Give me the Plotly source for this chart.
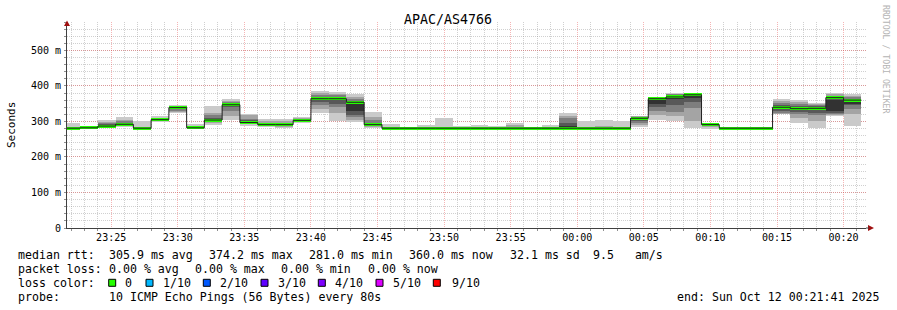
import pandas as pd
import plotly.graph_objects as go

# ---------------- data (ms) ----------------
start_time = "2025-10-11 23:21:20"   # first 80 s bucket start
step_s = 80
median = [281, 282, 287, 292, 281, 305, 339, 282, 304, 347,
          297, 291, 291, 303, 364, 364, 354, 291, 281, 281,
          281, 281, 281, 281, 281, 281, 281, 281, 281, 281,
          281, 281, 309, 364, 369, 375, 291, 281, 281, 281,
          340, 336, 337, 367, 360]

p1 = [279, 281, 283, 284, 279, 298, 324, 280, 291, 303,
      287, 284, 281, 297, 325, 301, 298, 281, 280, 280,
      280, 280, 280, 280, 280, 280, 280, 280, 280, 280,
      280, 280, 285, 305, 301, 282, 280, 280, 280, 280,
      320, 296, 282, 316, 286]
p2 = [280, 281, 284, 287, 280, 301, 327, 281, 296, 315,
      292, 286, 284, 299, 335, 325, 305, 283, 280, 280,
      280, 280, 280, 280, 280, 280, 280, 280, 281, 280,
      280, 280, 290, 318, 315, 300, 283, 280, 280, 280,
      322, 310, 300, 318, 320]
p3 = [280, 282, 285, 289, 280, 303, 330, 281, 300, 330,
      294, 288, 287, 301, 345, 340, 312, 286, 281, 281,
      281, 281, 281, 281, 281, 281, 281, 281, 282, 281,
      281, 281, 295, 330, 326, 338, 286, 281, 281, 281,
      325, 321, 318, 320, 336]
p4 = [280, 282, 286, 291, 281, 304, 335, 282, 302, 340,
      296, 290, 289, 302, 355, 350, 318, 288, 281, 281,
      281, 281, 281, 281, 281, 281, 281, 281, 283, 281,
      281, 281, 300, 340, 345, 355, 288, 281, 281, 281,
      330, 327, 325, 325, 345]
p5 = [281, 282, 287, 292, 281, 305, 338, 282, 303, 345,
      297, 291, 290, 303, 361, 362, 330, 290, 281, 281,
      281, 281, 281, 281, 281, 281, 281, 281, 284, 281,
      281, 281, 305, 350, 362, 365, 290, 281, 281, 281,
      337, 333, 333, 330, 350]
p6 = [281, 282, 288, 293, 281, 305, 341, 282, 305, 349,
      298, 292, 292, 304, 366, 366, 350, 293, 281, 281,
      281, 281, 281, 281, 281, 281, 281, 281, 285, 281,
      281, 281, 310, 360, 370, 374, 291, 281, 281, 281,
      342, 338, 339, 360, 357]
p7 = [281, 282, 292, 297, 282, 306, 342, 283, 309, 352,
      303, 294, 294, 305, 370, 370, 356, 297, 282, 281,
      282, 282, 281, 282, 281, 282, 281, 282, 295, 282,
      282, 282, 312, 362, 373, 377, 292, 281, 281, 281,
      346, 343, 343, 368, 362]
p8 = [282, 283, 295, 301, 283, 308, 343, 284, 317, 355,
      308, 297, 297, 307, 375, 374, 362, 303, 283, 282,
      283, 283, 282, 283, 282, 284, 281, 283, 310, 283,
      283, 283, 313, 364, 376, 378, 293, 281, 281, 281,
      352, 349, 346, 372, 368]
p9 = [284, 283, 298, 305, 285, 311, 344, 286, 323, 358,
      317, 302, 301, 309, 381, 378, 370, 312, 285, 282,
      284, 285, 283, 284, 284, 289, 282, 285, 314, 285,
      286, 285, 315, 365, 378, 379, 294, 282, 282, 282,
      358, 355, 350, 376, 373]
p10 = [295, 284, 304, 313, 301, 316, 346, 292, 343, 364,
       321, 308, 306, 312, 386, 383, 377, 326, 292, 283,
       290, 309, 286, 290, 287, 295, 283, 290, 323, 301,
       304, 301, 316, 366, 380, 380, 294, 282, 282, 282,
       362, 359, 353, 380, 378]

y_ticks = [0, 100, 200, 300, 400, 500]
y_tick_labels = ["0", "100 m", "200 m", "300 m", "400 m", "500 m"]

rtt_items = ["305.9 ms avg", "374.2 ms max", "281.0 ms min", "360.0 ms now",
             "32.1 ms sd", "9.5   am/s"]
loss_items = ["0.00 % avg", "0.00 % max", "0.00 % min", "0.00 % now"]
loss_labels = ["0", "1/10", "2/10", "3/10", "4/10", "5/10", "9/10"]
loss_colors = ["#26ff00", "#00b8ff", "#0059ff", "#5e00ff", "#7e00ff", "#dd00ff", "#ff0000"]
probe_text = "10 ICMP Echo Pings (56 Bytes) every 80s"
end_text = "end: Sun Oct 12 00:21:41 2025"

# ---------------- geometry helpers ----------------
W, H = 897, 310
L, R, T, B = 67, 866, 22, 228
def px(x):
    return (x - L) / (R - L)
def py(y):
    return (B - y) / (B - T)

t0 = pd.Timestamp(start_time)
n = len(median)
starts = [t0 + pd.Timedelta(seconds=step_s * i) for i in range(n + 1)]
centers = [t0 + pd.Timedelta(seconds=step_s * i + step_s / 2) for i in range(n)]

fig = go.Figure()

pings = [p1, p2, p3, p4, p5, p6, p7, p8, p9, p10]
smoke_cols = ["#cacaca", "#a4a4a4", "#7e7e7e", "#585858", "#323232"]
for i in range(5):
    lo = pings[i]
    hi = pings[9 - i]
    fig.add_trace(go.Bar(
        x=centers, base=lo, y=[h - l for h, l in zip(hi, lo)],
        width=step_s * 1000, marker=dict(color=smoke_cols[i], line=dict(width=0)),
        opacity=1, showlegend=False, hoverinfo="skip"))

fig.add_trace(go.Scatter(
    x=starts, y=median + [median[-1]], mode="lines", line_shape="hv",
    line=dict(color="#202020", width=1), showlegend=False, hoverinfo="skip"))

band = 8.4
fig.add_trace(go.Bar(
    x=centers, base=[m - band / 2 for m in median], y=[band] * n,
    width=step_s * 1000, marker=dict(color=loss_colors[0], line=dict(width=0)),
    opacity=1, showlegend=False, hoverinfo="skip"))

font = "DejaVu Sans Mono"
grid_minor = "rgba(150,150,150,0.45)"
grid_major = "rgba(230,60,60,0.38)"

fig.update_layout(
    width=W, height=H, barmode="overlay", bargap=0,
    margin=dict(l=L, r=W - R, t=T, b=H - B, pad=0),
    paper_bgcolor="white", plot_bgcolor="white",
    font=dict(family=font, size=10, color="#000000"),
    xaxis=dict(
        type="date", range=["2025-10-11 23:21:41", "2025-10-12 00:21:41"],
        tickformat="%H:%M", dtick=300000, tick0="2025-10-11 23:25:00",
        showgrid=True, gridcolor=grid_major, griddash="1px,1px", gridwidth=1,
        minor=dict(dtick=60000, tick0="2025-10-11 23:25:00", showgrid=True,
                   gridcolor=grid_minor, griddash="1px,1px", gridwidth=1,
                   ticks="outside", ticklen=2, tickcolor="#909090"),
        ticks="", ticklen=0,
        showline=True, linecolor="#404040", linewidth=1,
        tickfont=dict(family=font, size=10, color="#000000"), ticklabelstandoff=0,
        zeroline=False, fixedrange=True),
    yaxis=dict(
        range=[0, 580], tickvals=y_ticks, ticktext=y_tick_labels,
        showgrid=True, gridcolor=grid_major, griddash="1px,1px", gridwidth=1,
        minor=dict(dtick=20, showgrid=True, gridcolor=grid_minor,
                   griddash="1px,1px", gridwidth=1,
                   ticks="outside", ticklen=2, tickcolor="#909090"),
        ticks="outside", ticklen=2, tickcolor="#909090",
        showline=True, linecolor="#404040", linewidth=1,
        tickfont=dict(family=font, size=10, color="#000000"), ticklabelstandoff=1,
        zeroline=False, fixedrange=True),
)

ann = []
def text(x, y, s, size=11.6, anchor="left", color="#000000", angle=0):
    ann.append(dict(x=px(x), y=py(y), xref="paper", yref="paper",
                    text=s.replace(" ", "&nbsp;"),
                    showarrow=False, xanchor=anchor, yanchor="middle",
                    textangle=angle,
                    font=dict(family=font, size=size, color=color)))

text(448, 19, "APAC/AS4766", size=13.3, anchor="center")
text(11, 125, "Seconds", size=11, anchor="center", angle=-90)
text(886, 59, "RRDTOOL / TOBI OETIKER", size=8.2, anchor="center", color="#b4b4b4", angle=90)

# legend block: rrdtool places each item separately
text(16, 254.5, "median rtt:")
for xx, s in zip([107.3, 207.3, 307.3, 407.3, 507.7, 591], rtt_items):
    text(xx, 254.5, s)
text(16, 268.5, "packet loss:")
for xx, s in zip([107.3, 193.3, 279.3, 365.7], loss_items):
    text(xx, 268.5, s)
text(16, 282.5, "loss color:")
text(16, 296.5, "probe:")
text(107.3, 296.5, probe_text)
text(881, 296.5, end_text, anchor="right")

shapes = []
sq_x = [108.7, 146, 203.3, 261, 318.3, 376, 433.3]
lab_x = [123.3, 160.7, 218, 276, 333, 390.7, 450]
for sx, lx, lab, col in zip(sq_x, lab_x, loss_labels, loss_colors):
    shapes.append(dict(type="rect", xref="paper", yref="paper",
                       x0=px(sx), x1=px(sx + 7), y0=py(286.3), y1=py(279.3),
                       fillcolor=col, line=dict(color="#000000", width=1)))
    text(lx, 282.5, lab)

# axis arrows
arrow_col = "#a01010"
shapes.append(dict(type="path", xref="paper", yref="paper",
                   path=f"M {px(64)} {py(26)} L {px(70)} {py(26)} L {px(67)} {py(20.5)} Z",
                   fillcolor=arrow_col, line=dict(width=0)))
shapes.append(dict(type="path", xref="paper", yref="paper",
                   path=f"M {px(868)} {py(225)} L {px(868)} {py(231)} L {px(874)} {py(228)} Z",
                   fillcolor=arrow_col, line=dict(width=0)))
shapes.append(dict(type="line", xref="paper", yref="paper",
                   x0=px(866), x1=px(869), y0=0, y1=0,
                   line=dict(color="#404040", width=1)))

fig.update_layout(annotations=ann, shapes=shapes)
fig.write_html("out.html")
